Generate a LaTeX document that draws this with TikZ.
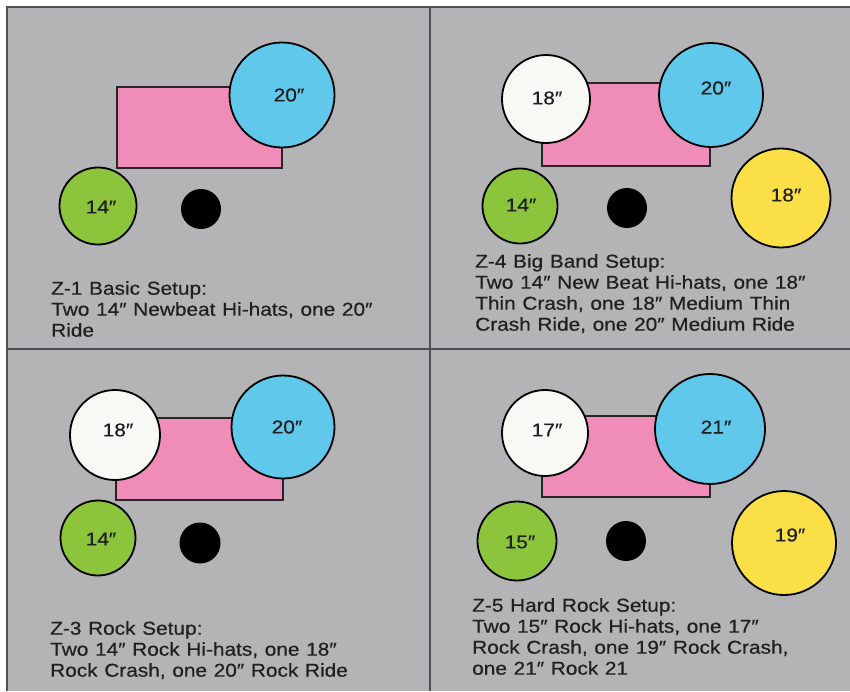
\documentclass[tikz,border=0pt]{standalone}
\usepackage{fontspec}
\setmainfont{Liberation Sans}
\newfontfamily\kitfont{Liberation Sans}[FakeStretch=1.12, FakeBold=0.5, WordSpace=1.15]
\definecolor{bg}{RGB}{180,180,182}
\definecolor{framec}{RGB}{80,80,84}
\definecolor{pinkc}{RGB}{240,140,184}
\definecolor{bluec}{RGB}{96,200,235}
\definecolor{greenc}{RGB}{140,196,60}
\definecolor{yellowc}{RGB}{250,224,70}
\definecolor{whitec}{RGB}{248,248,244}
\definecolor{txt}{RGB}{32,32,34}
\tikzset{
  cym/.style={circle, draw=black, line width=1.8pt, inner sep=0pt, minimum size=#1},
  snaredrum/.style={circle, fill=black, inner sep=0pt, minimum size=#1},
  kit/.style={draw=black!85, line width=1.5pt, fill=pinkc},
  lbl/.style={inner sep=0pt, font=\kitfont\fontsize{18.6}{21}\selectfont, text=txt},
  captxt/.style={inner sep=0pt, anchor=north west, align=left, font=\kitfont\fontsize{18.6}{21}\selectfont, text=txt},
  divline/.style={draw=framec, line width=1.2pt}
}
\begin{document}
\begin{tikzpicture}[x=1pt,y=-1pt]
\useasboundingbox (0,0) rectangle (850,691);
\fill[white] (0,0) rectangle (850,691);
\fill[bg] (7,7) rectangle (850,691);
\draw[divline] (850,7) -- (7,7) -- (7,691);
\draw[divline] (430,7) -- (430,691);
\draw[divline] (7,349) -- (850,349);

% Panel 1
\filldraw[kit] (117,87) rectangle (282,168);
\node[cym=105pt, fill=bluec] (p1ride) at (282,95) {};
\node[cym=77pt, fill=greenc] (p1hh) at (98,206) {};
\node[snaredrum=40pt] (p1snare) at (201,209) {};
\node[lbl] (p1ridet) at (289,95) {20″};
\node[lbl] (p1hht) at (101,207) {14″};
\node[captxt] (p1cap) at (51,281) {Z-1 Basic Setup:\\Two 14″ Newbeat Hi-hats, one 20″\\Ride};

% Panel 2
\filldraw[kit] (542,83) rectangle (710,166);
\node[cym=88pt, fill=whitec] (p2crash) at (546,99) {};
\node[cym=104pt, fill=bluec] (p2ride) at (711,95) {};
\node[cym=75pt, fill=greenc] (p2hh) at (520,206) {};
\node[snaredrum=40pt] (p2snare) at (627,208) {};
\node[cym=99pt, fill=yellowc] (p2cr) at (781,198) {};
\node[lbl] (p2crasht) at (547,98) {18″};
\node[lbl] (p2ridet) at (716,88) {20″};
\node[lbl] (p2crt) at (786,195) {18″};
\node[lbl] (p2hht) at (521,205) {14″};
\node[captxt] (p2cap) at (475,254) {Z-4 Big Band Setup:\\Two 14″ New Beat Hi-hats, one 18″\\Thin Crash, one 18″ Medium Thin\\Crash Ride, one 20″ Medium Ride};

% Panel 3
\filldraw[kit] (116,418) rectangle (283,500);
\node[cym=90pt, fill=whitec] (p3crash) at (115,435) {};
\node[cym=103pt, fill=bluec] (p3ride) at (283,427) {};
\node[cym=75pt, fill=greenc] (p3hh) at (98,538) {};
\node[snaredrum=41pt] (p3snare) at (200,543) {};
\node[lbl] (p3crasht) at (118,430) {18″};
\node[lbl] (p3ridet) at (287,427) {20″};
\node[lbl] (p3hht) at (101,539) {14″};
\node[captxt] (p3cap) at (50,621) {Z-3 Rock Setup:\\Two 14″ Rock Hi-hats, one 18″\\Rock Crash, one 20″ Rock Ride};

% Panel 4
\filldraw[kit] (542,416) rectangle (710,497);
\node[cym=86pt, fill=whitec] (p4crash) at (545,433) {};
\node[cym=110pt, fill=bluec] (p4ride) at (710,429) {};
\node[cym=79pt, fill=greenc] (p4hh) at (517,541) {};
\node[snaredrum=40pt] (p4snare) at (626,541) {};
\node[cym=104pt, fill=yellowc] (p4cr) at (784,543) {};
\node[lbl] (p4crasht) at (547,430) {17″};
\node[lbl] (p4ridet) at (716,427) {21″};
\node[lbl] (p4hht) at (520,542) {15″};
\node[lbl] (p4crt) at (790,535) {19″};
\node[captxt] (p4cap) at (472,598) {Z-5 Hard Rock Setup:\\Two 15″ Rock Hi-hats, one 17″\\Rock Crash, one 19″ Rock Crash,\\one 21″ Rock 21};
\end{tikzpicture}
\end{document}
